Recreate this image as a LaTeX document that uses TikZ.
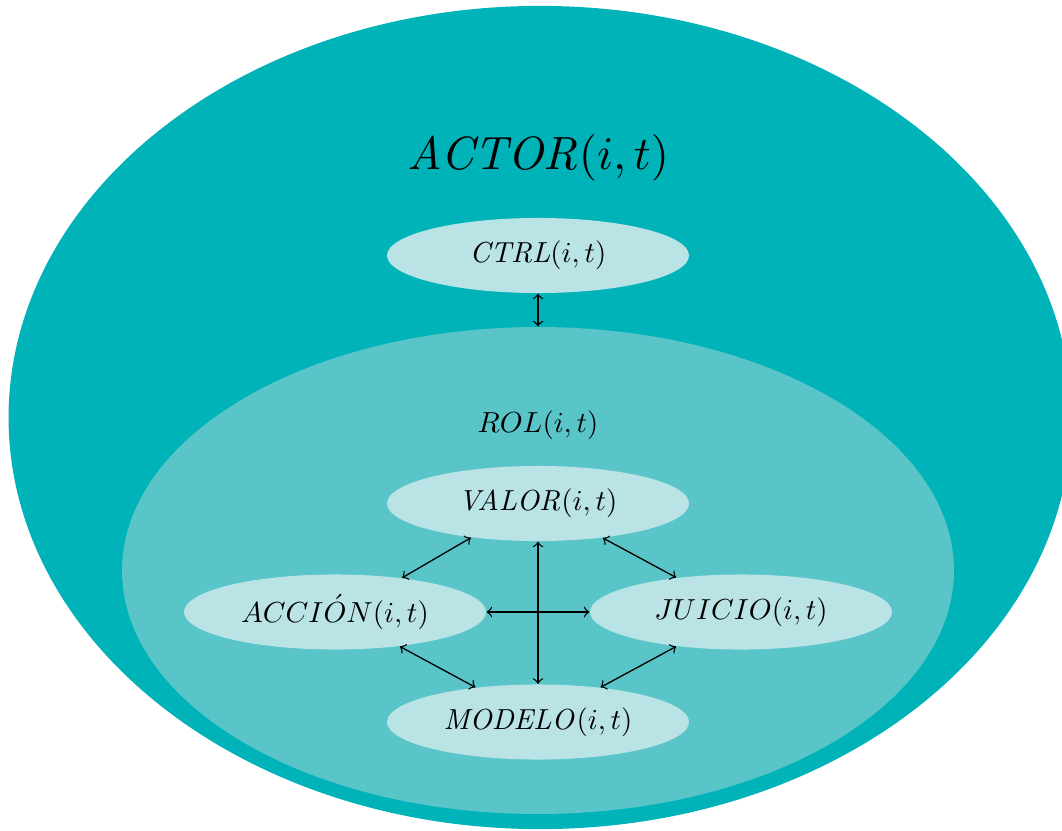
\documentclass[tikz,border=0pt]{standalone}
\usetikzlibrary{shapes.geometric}
\definecolor{outerc}{RGB}{0,179,185}
\definecolor{innerc}{RGB}{89,197,200}
\definecolor{boxc}{RGB}{186,227,229}
\tikzset{
  x=0.345pt, y=-0.345pt,
  blob/.style={ellipse, fill=boxc, draw=none, minimum width=104.2pt, minimum height=25.9pt, inner sep=0pt},
  link/.style={<->, black, line width=0.45pt}
}
\begin{document}
\begin{tikzpicture}
\useasboundingbox (0,0) rectangle (1062,830);
\clip (0,0) rectangle (1062,830);
\node[ellipse, fill=outerc, minimum width=366.7pt, minimum height=284pt, inner sep=0pt] (actor) at (540,417.5) {};
\node[ellipse, fill=innerc, minimum width=287pt, minimum height=168pt, inner sep=0pt] (rol) at (538,570.5) {};
\node[scale=1.61] (actorlbl) at (538,158) {$\mathit{ACTOR}(i,t)$};
\node (rollbl) at (538,425) {$ROL(i,t)$};
\node[blob] (ctrl) at (538,255.5) {$\mathit{CTRL}(i,t)$};
\node[blob] (valor) at (538,503.5) {$\mathit{VALOR}(i,t)$};
\node[blob] (accion) at (335,612) {$ACCI\acute{O}N(i,t)$};
\node[blob] (juicio) at (741,612) {$JUICIO(i,t)$};
\node[blob] (modelo) at (538,722) {$\mathit{MODELO}(i,t)$};
\draw[link] (ctrl.south) -- (rol.north);
\draw[link] (valor.207.3) -- (accion.27.6);
\draw[link] (valor.332.7) -- (juicio.152.4);
\draw[link] (accion.-28) -- (modelo.151);
\draw[link] (juicio.208) -- (modelo.29);
\draw[link] (valor.south) -- (modelo.north);
\draw[link] (accion.east) -- (juicio.west);
\end{tikzpicture}
\end{document}
